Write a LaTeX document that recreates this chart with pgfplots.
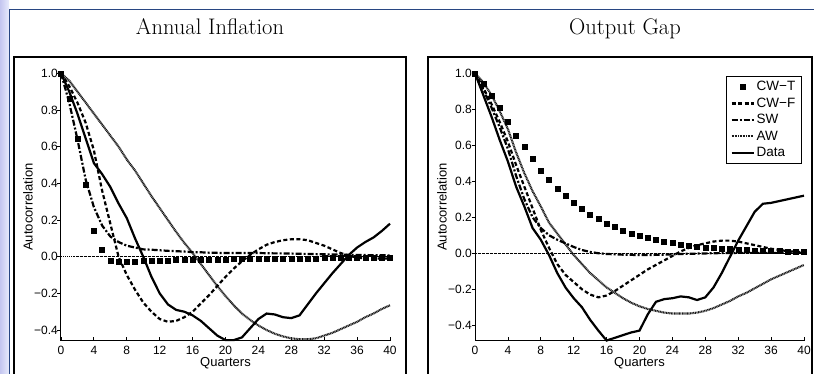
\documentclass[border=0pt]{standalone}
\usepackage{pgfplots}
\pgfplotsset{compat=1.18}
\usepackage{pgfplotstable}
\usepackage{fontspec}
\setsansfont{Liberation Sans}

\pgfplotstableread{
q cwt cwf sw aw data
0 1.00 1.00 1.00 1.00 1.00
1 0.86 0.93 0.84 0.96 0.90
2 0.645 0.84 0.64 0.90 0.78
3 0.39 0.73 0.42 0.84 0.645
4 0.14 0.58 0.27 0.78 0.51
5 0.036 0.36 0.17 0.72 0.45
6 -0.02 0.18 0.11 0.66 0.38
7 -0.03 0.0 0.08 0.60 0.29
8 -0.025 -0.10 0.06 0.53 0.21
9 -0.025 -0.18 0.05 0.47 0.10
10 -0.022 -0.25 0.04 0.40 0.00
11 -0.02 -0.30 0.038 0.33 -0.11
12 -0.02 -0.34 0.035 0.265 -0.20
13 -0.02 -0.355 0.032 0.20 -0.26
14 -0.018 -0.35 0.03 0.135 -0.29
15 -0.018 -0.33 0.028 0.075 -0.30
16 -0.017 -0.30 0.025 0.02 -0.32
17 -0.016 -0.255 0.024 -0.04 -0.35
18 -0.015 -0.21 0.022 -0.10 -0.39
19 -0.015 -0.16 0.021 -0.16 -0.43
20 -0.014 -0.11 0.02 -0.215 -0.455
21 -0.013 -0.065 0.02 -0.265 -0.455
22 -0.013 -0.025 0.02 -0.31 -0.44
23 -0.012 0.01 0.02 -0.345 -0.39
24 -0.012 0.04 0.02 -0.375 -0.34
25 -0.011 0.065 0.019 -0.40 -0.31
26 -0.011 0.08 0.018 -0.42 -0.315
27 -0.010 0.09 0.018 -0.435 -0.33
28 -0.010 0.095 0.017 -0.445 -0.335
29 -0.010 0.095 0.016 -0.45 -0.32
30 -0.009 0.09 0.015 -0.45 -0.26
31 -0.009 0.075 0.014 -0.445 -0.20
32 -0.008 0.06 0.013 -0.43 -0.145
33 -0.008 0.04 0.012 -0.415 -0.09
34 -0.008 0.02 0.011 -0.395 -0.04
35 -0.007 0.005 0.010 -0.375 0.01
36 -0.007 -0.005 0.010 -0.355 0.05
37 -0.007 -0.01 0.009 -0.33 0.08
38 -0.006 -0.01 0.008 -0.31 0.105
39 -0.006 -0.01 0.008 -0.285 0.14
40 -0.006 -0.01 0.007 -0.265 0.18
}\infl

\pgfplotstableread{
q cwt cwf sw aw data
0 1.00 1.00 1.00 1.00 1.00
1 0.94 0.92 0.91 0.95 0.88
2 0.875 0.83 0.81 0.88 0.76
3 0.81 0.73 0.70 0.79 0.63
4 0.73 0.62 0.58 0.69 0.51
5 0.655 0.49 0.43 0.56 0.37
6 0.59 0.37 0.30 0.445 0.26
7 0.525 0.25 0.20 0.345 0.14
8 0.46 0.13 0.14 0.26 0.075
9 0.41 0.03 0.10 0.17 -0.01
10 0.36 -0.06 0.075 0.11 -0.11
11 0.32 -0.12 0.055 0.05 -0.19
12 0.28 -0.16 0.035 -0.01 -0.25
13 0.245 -0.20 0.018 -0.06 -0.30
14 0.215 -0.23 0.007 -0.11 -0.37
15 0.19 -0.245 0.0 -0.15 -0.43
16 0.165 -0.235 -0.004 -0.19 -0.485
17 0.145 -0.21 -0.006 -0.22 -0.47
18 0.125 -0.18 -0.008 -0.25 -0.455
19 0.11 -0.15 -0.009 -0.275 -0.44
20 0.097 -0.12 -0.01 -0.295 -0.43
21 0.085 -0.09 -0.01 -0.31 -0.34
22 0.075 -0.065 -0.009 -0.32 -0.27
23 0.065 -0.04 -0.008 -0.33 -0.255
24 0.056 -0.015 -0.006 -0.335 -0.25
25 0.05 0.01 -0.004 -0.335 -0.24
26 0.043 0.03 -0.003 -0.335 -0.245
27 0.038 0.045 -0.002 -0.33 -0.26
28 0.033 0.055 -0.001 -0.32 -0.245
29 0.029 0.065 0.0 -0.305 -0.19
30 0.026 0.07 0.001 -0.285 -0.11
31 0.023 0.07 0.001 -0.265 -0.02
32 0.02 0.065 0.002 -0.24 0.07
33 0.018 0.055 0.002 -0.22 0.15
34 0.016 0.045 0.002 -0.195 0.23
35 0.014 0.035 0.002 -0.17 0.275
36 0.013 0.025 0.002 -0.145 0.28
37 0.012 0.018 0.002 -0.125 0.29
38 0.011 0.012 0.003 -0.105 0.30
39 0.010 0.008 0.003 -0.085 0.31
40 0.009 0.005 0.003 -0.065 0.32
}\gap

\pgfplotsset{
  panel/.style={
    scale only axis, width=329pt, height=267.4pt,
    xmin=0, xmax=40, clip=false,
    axis x line*=bottom, axis y line*=left,
    axis line style={line width=1pt,-},
    tick align=inside, major tick length=3.5pt,
    tick style={line width=0.8pt, black},
    ytick style={xshift=-3.5pt},
    xtick={0,4,...,40},
    xticklabels={0,4,8,12,16,20,24,28,32,36,40},
    ytick={-0.4,-0.2,0,0.2,0.4,0.6,0.8,1.0},
    yticklabels={−0.4,−0.2,0.0,0.2,0.4,0.6,0.8,1.0},
    ticklabel style={font=\sffamily\fontsize{12}{12}\selectfont, text=black},
    xticklabel style={inner ysep=1pt, yshift=-4pt},
    yticklabel style={inner xsep=3pt},
    xlabel={Quarters}, ylabel={Autocorrelation},
    label style={font=\sffamily\fontsize{13}{14}\selectfont, inner sep=0pt},
    xlabel style={at={(axis description cs:0.5,-0.083)}, anchor=center},
    ylabel style={at={(axis description cs:-0.1,0.5)}, anchor=center},
  },
  cwt/.style={only marks, mark=square*, mark size=2.5pt, black},
  cwf/.style={black, line width=2.2pt, dash pattern=on 4pt off 2.5pt},
  sw/.style={black, line width=2.2pt, dash pattern=on 6pt off 2pt on 2pt off 2pt},
  aw/.style={black!90, line width=2.1pt, dash pattern=on 1pt off 0.6pt},
  dat/.style={black, line width=2.2pt},
  zer/.style={black, line width=0.6pt, dash pattern=on 1.5pt off 1pt on 0.5pt off 1pt},
  lineleg/.style={legend image code/.code={\draw[##1] (0pt,0pt) -- (22pt,0pt);}},
  markleg/.style={legend image code/.code={\draw[##1] plot coordinates {(11pt,0pt)};}},
}

\begin{document}
\begin{tikzpicture}[x=1pt,y=1pt]
\useasboundingbox (0,0) rectangle (814,374);
\fill[white] (0,0) rectangle (814,374);
\shade[left color={rgb,255:red,196;green,198;blue,240}, right color={rgb,255:red,232;green,235;blue,252}] (0,0) rectangle (9,374);
\draw[color={rgb,255:red,40;green,70;blue,130}, line width=1pt] (9.5,-2) -- (9.5,364) -- (816,364);
\draw[line width=1.3pt] (14,-5) |- (406,317) -- (406,-5);
\draw[line width=1.3pt] (428,-5) |- (812,317) -- (812,-5);
\node[font=\fontsize{22.5}{26}\selectfont, anchor=base] at (210,339) {Annual Inflation};
\node[font=\fontsize{22.5}{26}\selectfont, anchor=base] at (625,339) {Output Gap};

\begin{axis}[panel, at={(61pt,33.3pt)}, anchor=south west, ymin=-0.458, ymax=1.0]
\addplot[zer, forget plot] coordinates {(0,0) (40,0)};
\addplot[aw] table[x=q,y=aw] {\infl};
\addplot[sw] table[x=q,y=sw] {\infl};
\addplot[cwf] table[x=q,y=cwf] {\infl};
\addplot[dat] table[x=q,y=data] {\infl};
\addplot[cwt] table[x=q,y=cwt] {\infl};
\end{axis}

\begin{axis}[panel, at={(475pt,33.3pt)}, anchor=south west, ymin=-0.486, ymax=1.0,
  legend style={at={(rel axis cs:0.993,0.99)}, anchor=north east, draw=black,
    line width=0.9pt, font=\sffamily\fontsize{13.5}{14}\selectfont,
    row sep=1.6pt, inner xsep=4pt, inner ysep=3pt},
  legend cell align=left,
  reverse legend]
\addplot[zer, forget plot] coordinates {(0,0) (40,0)};
\addplot[dat, lineleg] table[x=q,y=data] {\gap};
\addlegendentry{Data}
\addplot[aw, lineleg] table[x=q,y=aw] {\gap};
\addlegendentry{AW}
\addplot[sw, lineleg] table[x=q,y=sw] {\gap};
\addlegendentry{SW}
\addplot[cwf, lineleg] table[x=q,y=cwf] {\gap};
\addlegendentry{CW−F}
\addplot[cwt, markleg] table[x=q,y=cwt] {\gap};
\addlegendentry{CW−T}
\end{axis}
\end{tikzpicture}
\end{document}
